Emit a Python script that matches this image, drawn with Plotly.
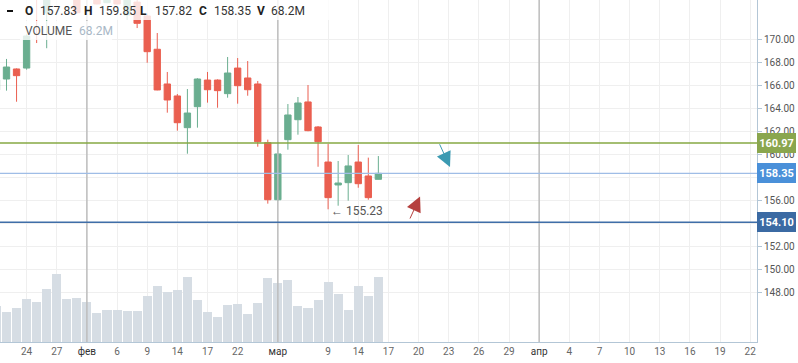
import plotly.graph_objects as go

# ---------------- data ----------------
opens  = [165.58,166.53,167.40,167.48,174.60,172.25,175.60,176.90,175.20,173.80,
          175.00,173.15,174.60,172.08,173.20,172.00,169.11,166.10,165.06,162.31,
          164.13,166.44,166.44,165.26,167.48,166.62,166.10,161.01,156.06,161.27,
          163.00,164.54,162.37,159.33,157.34,157.54,159.33,158.12,157.83]
highs  = [166.70,168.27,167.45,170.40,175.20,176.20,177.60,177.80,175.90,175.30,
          175.40,174.90,175.00,174.10,173.90,172.20,170.52,167.14,165.23,165.66,
          166.60,167.14,166.50,168.44,168.35,168.09,166.36,161.27,161.09,164.36,
          164.97,166.01,162.45,160.89,159.42,159.94,160.81,159.71,159.85]
lows   = [165.30,165.52,164.56,167.34,169.65,169.20,174.90,174.60,172.20,173.60,
          173.00,173.10,173.00,171.65,170.95,167.94,165.55,163.61,162.05,160.05,
          162.31,164.48,164.04,164.91,164.39,165.08,160.66,155.72,155.95,160.40,
          161.70,162.00,158.92,155.23,155.54,155.98,157.10,156.06,157.82]
closes = [166.45,167.57,166.82,170.26,173.70,175.60,176.90,175.20,172.28,175.00,
          173.04,174.60,173.04,173.90,171.36,168.90,165.58,164.71,162.74,163.58,
          166.53,165.60,165.52,167.05,165.95,165.60,161.09,156.06,160.03,163.41,
          164.45,162.05,161.09,156.24,157.51,158.99,157.45,156.24,158.35]
volume_m = [37.6,31.3,35.5,45.0,41.8,55.5,71.4,45.0,46.1,41.8,
            30.6,33.4,33.4,32.4,32.4,48.2,58.7,52.4,54.5,68.2,
            44.0,31.3,26.0,38.7,39.7,29.2,40.8,67.5,61.9,65.0,
            37.6,35.5,44.0,62.9,50.3,33.4,58.7,48.2,68.2]

tick_pos    = [3, 6, 9, 12, 15, 18, 21, 24, 28, 33, 36, 39, 42, 45, 48, 51, 54, 57, 60, 63, 66, 69, 72, 75]
tick_labels = ["24", "27", "фев", "6", "9", "14", "17", "22", "мар", "9", "14", "17",
               "20", "23", "26", "29", "апр", "4", "7", "10", "13", "16", "19", "22"]
month_pos   = [9, 28, 54]

level_values = [160.97, 158.35, 154.10]
level_line_colors = ["#86a843", "#9fbde6", "#3f6ea8"]
level_box_colors  = ["#8aa64e", "#4a90d9", "#3b6aa3"]

price_ticks = [148, 150, 152, 154, 156, 158, 160, 162, 164, 166, 168, 170]

# arrows: (tail_x, tail_y, tip_x, tip_y)
arrow_teal = (44.03, 161.0, 45.13, 158.90)
arrow_red  = (41.08, 154.30, 42.15, 156.34)

low_idx = lows.index(min(lows))

# ---------------- figure ----------------
PW, PH = 757, 342  # plot area px
xs = list(range(len(closes)))

fig = go.Figure()
fig.add_trace(go.Bar(x=xs, y=volume_m, width=0.9, marker=dict(color="#d6dde4", line=dict(width=0)),
                     yaxis="y", hoverinfo="skip"))
fig.add_trace(go.Candlestick(x=xs, open=opens, high=highs, low=lows, close=closes, yaxis="y2",
                             increasing=dict(line=dict(color="#6aae90", width=1), fillcolor="#6aae90"),
                             decreasing=dict(line=dict(color="#ea5f50", width=1), fillcolor="#ea5f50"),
                             whiskerwidth=0, hoverinfo="skip"))

shapes = []
for m in month_pos:
    shapes.append(dict(type="line", xref="x", yref="paper", x0=m, x1=m, y0=0, y1=1,
                       line=dict(color="#bdbdbd", width=1.5), layer="above"))
for v, c, w in zip(level_values, level_line_colors, [1.5, 1.2, 1.5]):
    shapes.append(dict(type="line", xref="paper", yref="y2", x0=0, x1=1, y0=v, y1=v,
                       line=dict(color=c, width=w), layer="above"))
# legend backdrop
shapes.append(dict(type="rect", xref="paper", yref="paper", x0=0, x1=345/PW, y0=1-20/PH, y1=1,
                   fillcolor="rgba(255,255,255,0.8)", line=dict(width=0), layer="above"))
shapes.append(dict(type="rect", xref="paper", yref="paper", x0=20/PW, x1=112/PW, y0=1-40/PH, y1=1-21/PH,
                   fillcolor="rgba(255,255,255,0.8)", line=dict(width=0), layer="above"))
shapes.append(dict(type="line", xref="paper", yref="paper", x0=7/PW, x1=13/PW, y0=1-11/PH, y1=1-11/PH,
                   line=dict(color="#111", width=2), layer="above"))

ann = []
def fmt_vol(v):
    return f"{v:.1f}M"
row1 = [("O", 23, True), (f"{opens[-1]:.2f}", 38, False), ("H", 82, True), (f"{highs[-1]:.2f}", 97, False),
        ("L", 138, True), (f"{lows[-1]:.2f}", 153, False), ("C", 197, True), (f"{closes[-1]:.2f}", 212, False),
        ("V", 255, True), (fmt_vol(volume_m[-1]), 269, False)]
for t, px, b in row1:
    ann.append(dict(text=(f"<b>{t}</b>" if b else t), xref="paper", yref="paper", x=px/PW, y=1-11.5/PH,
                    xanchor="left", yanchor="middle", showarrow=False,
                    font=dict(family="Roboto", size=12, color="#222" if b else "#333")))
ann.append(dict(text="VOLUME", xref="paper", yref="paper", x=23/PW, y=1-31/PH, xanchor="left", yanchor="middle",
                showarrow=False, font=dict(family="Roboto", size=12, color="#555")))
ann.append(dict(text=fmt_vol(volume_m[-1]), xref="paper", yref="paper", x=77/PW, y=1-31/PH, xanchor="left",
                yanchor="middle", showarrow=False, font=dict(family="Roboto", size=12, color="#a9b8c6")))

for v, c in zip(level_values, level_box_colors):
    ann.append(dict(text=f"<b>{v:.2f}</b>", xref="paper", yref="y2", x=1, y=v, xanchor="left", yanchor="middle",
                    showarrow=False, bgcolor=c, borderpad=2, borderwidth=0, width=35, height=16,
                    font=dict(family="Roboto", size=11, color="white")))

ann.append(dict(text=f"← {lows[low_idx]:.2f}", xref="x", yref="y2", x=low_idx, y=lows[low_idx], xshift=1, yshift=-2,
                xanchor="left", yanchor="middle", showarrow=False,
                font=dict(family="Roboto", size=12, color="#555")))

for (tx, ty, hx, hy), col in [(arrow_teal, "#3b9ab2"), (arrow_red, "#b5403e")]:
    ann.append(dict(text="", x=hx, y=hy, xref="x", yref="y2", ax=tx, ay=ty, axref="x", ayref="y2",
                    showarrow=True, arrowhead=2, arrowsize=3, arrowwidth=1, arrowcolor=col, standoff=0))

fig.update_layout(
    width=798, height=363,
    margin=dict(l=0, r=798-PW, t=0, b=363-PH),
    paper_bgcolor="white", plot_bgcolor="white",
    showlegend=False, boxgap=0.1, bargap=0,
    shapes=shapes, annotations=ann,
    xaxis=dict(range=[-6.5/10.05 + 1, -6.5/10.05 + 1 + PW/10.05], tickmode="array", tickvals=tick_pos,
               ticktext=[(f"<span style='color:#333'>{t}</span>" if not t.isdigit() else t) for t in tick_labels],
               showgrid=True, gridcolor="#efefef", gridwidth=1, showline=True, linecolor="#b3c6d6", linewidth=1,
               mirror=True, ticks="", tickfont=dict(family="Roboto", size=10, color="#666"),
               rangeslider=dict(visible=False), zeroline=False, fixedrange=True),
    yaxis=dict(range=[0, 68.2*PH/64.7], visible=False, showgrid=False, fixedrange=True),
    yaxis2=dict(range=[170 - 303/11.53, 170 + 39/11.53], overlaying="y", side="right", tickmode="array",
                tickvals=price_ticks, ticktext=[f"{p:.2f}" for p in price_ticks],
                showgrid=True, gridcolor="#efefef", gridwidth=1, showline=True, linecolor="#b3c6d6", linewidth=1,
                ticks="outside", ticklen=4, tickcolor="#b3c6d6",
                tickfont=dict(family="Roboto", size=10, color="#555"), zeroline=False, fixedrange=True),
)

fig.write_html("out.html", config={"displayModeBar": False},
               post_script="document.body.style.margin='0';document.body.style.overflow='hidden';")
